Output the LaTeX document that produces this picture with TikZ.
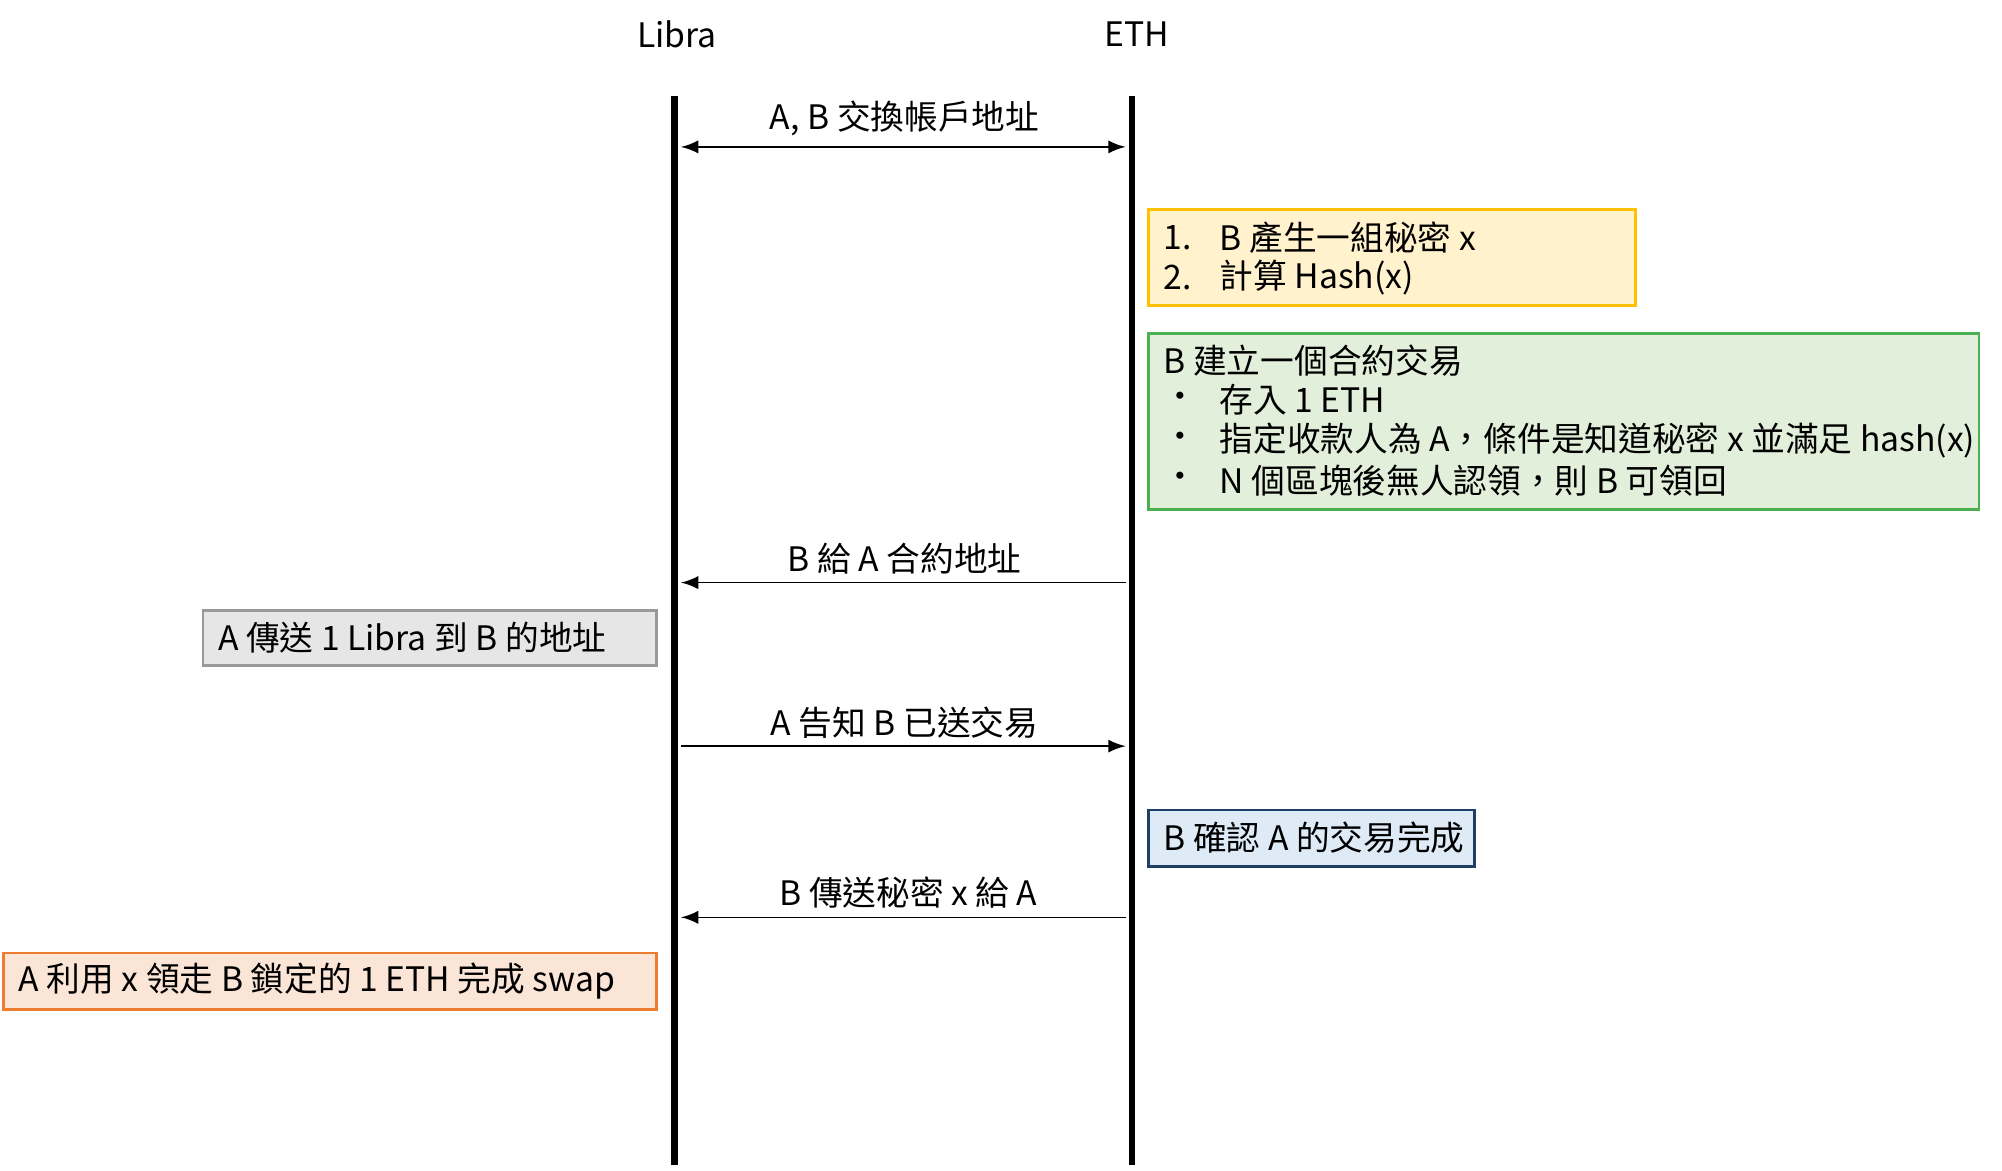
\documentclass[tikz,border=0pt]{standalone}
\usepackage{fontspec}
\setmainfont{Noto Sans CJK TC}
\definecolor{ybord}{HTML}{FFC000}
\definecolor{yfill}{HTML}{FFF2CC}
\definecolor{gbord}{HTML}{4CAF50}
\definecolor{gfill}{HTML}{E2EFDA}
\definecolor{bbord}{HTML}{1F3F66}
\definecolor{bfill}{HTML}{DEEBF7}
\definecolor{obord}{HTML}{ED7D31}
\definecolor{ofill}{HTML}{FBE5D6}
\definecolor{gybord}{HTML}{999999}
\definecolor{gyfill}{HTML}{E7E6E6}
\begin{document}
\begin{tikzpicture}[x=0.01cm,y=-0.01cm,
  every node/.style={font=\fontsize{7.5pt}{9pt}\selectfont, inner sep=0pt},
  life/.style={line width=1.4pt},
  msg/.style={line width=0.35pt,-latex},
  box/.style={draw, line width=0.6pt},
  txt/.style={anchor=west}]
\useasboundingbox (0,0) rectangle (1567,916);
\node (libra) at (530,27) {Libra};
\node (eth) at (890,27) {ETH};
\coordinate (lt) at (528,75); \coordinate (lb) at (528,912);
\coordinate (et) at (886,75); \coordinate (eb) at (886,912);
\draw[life] (lt) -- (lb);
\draw[life] (et) -- (eb);
% messages
\coordinate (a1) at (533,115); \coordinate (b1) at (881,115);
\draw[msg,latex-latex] (a1) -- (b1);
\node (m1) at (708,93) {A, B 交換帳戶地址};
\coordinate (a2) at (533,456); \coordinate (b2) at (881,456);
\draw[msg] (b2) -- (a2);
\node (m2) at (708,437) {B 給 A 合約地址};
\coordinate (a3) at (533,584); \coordinate (b3) at (881,584);
\draw[msg] (a3) -- (b3);
\node (m3) at (708,566) {A 告知 B 已送交易};
\coordinate (a4) at (533,718); \coordinate (b4) at (881,718);
\draw[msg] (b4) -- (a4);
\node (m4) at (711,699) {B 傳送秘密 x 給 A};
% boxes
\draw[box,draw=ybord,fill=yfill] (899,164) rectangle (1280,239);
\node[txt] (y1) at (910,186) {1.};
\node[txt] (y1t) at (954,186) {B 產生一組秘密 x};
\node[txt] (y2) at (910,217) {2.};
\node[txt] (y2t) at (954,217) {計算 Hash(x)};
\draw[box,draw=gbord,fill=gfill] (899,261) rectangle (1549,399);
\node[txt] (g0) at (910,282) {B 建立一個合約交易};
\node[txt] (g1b) at (910,313) {•}; \node[txt] (g1) at (954,313) {存入 1 ETH};
\node[txt] (g2b) at (910,345) {•}; \node[txt] (g2) at (954,345) {指定收款人為 A，條件是知道秘密 x 並滿足 hash(x)};
\node[txt] (g3b) at (910,376) {•}; \node[txt] (g3) at (954,376) {N 個區塊後無人認領，則 B 可領回};
\draw[box,draw=gybord,fill=gyfill] (159,478) rectangle (514,521);
\node[txt] (gr) at (170,499) {A 傳送 1 Libra 到 B 的地址};
\draw[box,draw=bbord,fill=bfill] (899,634) rectangle (1154,678);
\node[txt] (bl) at (910,656) {B 確認 A 的交易完成};
\draw[box,draw=obord,fill=ofill] (3,746) rectangle (514,790);
\node[txt] (or) at (14,768) {A 利用 x 領走 B 鎖定的 1 ETH 完成 swap};
\end{tikzpicture}
\end{document}
